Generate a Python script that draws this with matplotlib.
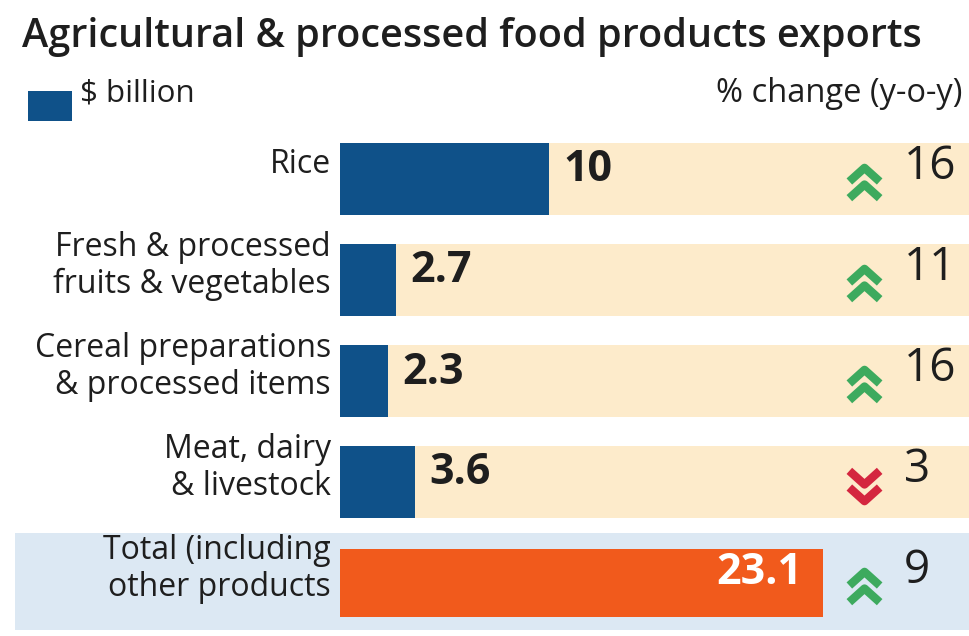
import matplotlib
matplotlib.use("Agg")
import matplotlib.pyplot as plt
from matplotlib.path import Path
from matplotlib.patches import Rectangle

# ---- data ----
categories = ["Rice",
              "Fresh & processed\nfruits & vegetables",
              "Cereal preparations\n& processed items",
              "Meat, dairy\n& livestock",
              "Total (including\nother products"]
values = [10, 2.7, 2.3, 3.6, 23.1]
value_labels = ["10", "2.7", "2.3", "3.6", "23.1"]
changes = ["16", "11", "16", "3", "9"]
directions = ["up", "up", "up", "down", "up"]

# ---- style ----
BLUE = "#0F5189"
ORANGE = "#F15A1C"
BEIGE = "#FDEBCB"
LIGHTBLUE = "#DCE8F3"
GREEN = "#3DAA5E"
RED = "#D4263F"
TXT = "#1E1E1E"
FONT = ["Open Sans", "DejaVu Sans"]

W, H = 969, 636
fig = plt.figure(figsize=(W / 100, H / 100), dpi=100)
fig.patch.set_facecolor("white")

# light blue band behind total row (figure coords)
fig.patches.append(Rectangle((15 / W, (H - 630) / H), (W - 15) / W, 97 / H,
                             transform=fig.transFigure, facecolor=LIGHTBLUE,
                             edgecolor="none", zorder=-5))

# axes: x value 0 at px 340, right edge px 969; rows at px 179 + 101*i
px_per_unit = 20.9
ax_left = 340 / W
ax = fig.add_axes([ax_left, 0, 1 - ax_left, (636 - 128) / H])
ax.patch.set_alpha(0)
ax.set_xlim(0, (W - 340) / px_per_unit)
ax.set_ylim((636 - 179) / 101, (128 - 179) / 101)
ax.axis("off")

n = len(categories)
xmax = (W - 340) / px_per_unit
up_path = Path([(-1, 0), (0, 0.9), (1, 0), (-1, -1.1), (0, -0.2), (1, -1.1)],
               [Path.MOVETO, Path.LINETO, Path.LINETO,
                Path.MOVETO, Path.LINETO, Path.LINETO])
down_path = Path([(-1, 0.9), (0, 0), (1, 0.9), (-1, -0.2), (0, -1.1), (1, -0.2)],
                 [Path.MOVETO, Path.LINETO, Path.LINETO,
                  Path.MOVETO, Path.LINETO, Path.LINETO])

for i in range(n):
    is_total = i == n - 1
    if not is_total:
        ax.barh(i, xmax, height=0.72, color=BEIGE, zorder=1)
        ax.barh(i, values[i], height=0.72, color=BLUE, zorder=2)
        ax.annotate(value_labels[i], xy=(values[i], i), xytext=(14, 9),
                    textcoords="offset pixels", ha="left", va="center",
                    fontsize=31, fontweight="bold", color=TXT, family=FONT)
    else:
        ax.barh(i, values[i], height=0.67, color=ORANGE, zorder=2)
        ax.annotate(value_labels[i], xy=(values[i], i), xytext=(-20, 10),
                    textcoords="offset pixels", ha="right", va="center",
                    fontsize=31, fontweight="bold", color="white", family=FONT)
    # category label
    ax.annotate(categories[i], xy=(0, i), xytext=(-9, 14),
                textcoords="offset pixels", ha="right", va="center",
                fontsize=23, color=TXT, family=FONT, linespacing=1.13,
                annotation_clip=False)
    # change indicator
    cx = (864 - 340) / px_per_unit
    path = up_path if directions[i] == "up" else down_path
    ax.plot([cx], [i + 0.02], marker=path, markersize=24,
            markerfacecolor="none", markeredgewidth=6,
            markeredgecolor=GREEN if directions[i] == "up" else RED,
            linestyle="none", zorder=3, clip_on=False)
    ax.annotate(changes[i], xy=(cx, i), xytext=(40, 12),
                textcoords="offset pixels", ha="left", va="center",
                fontsize=33, color=TXT, family=FONT)

# title & headers
fig.text(22 / W, 1 - 37 / H, "Agricultural & processed food products exports",
         ha="left", va="center", fontsize=28.5, fontweight="semibold",
         color=TXT, family=FONT)
fig.patches.append(Rectangle((28 / W, 1 - 121 / H), 44 / W, 30 / H,
                             transform=fig.transFigure, facecolor=BLUE,
                             edgecolor="none"))
fig.text(80 / W, 1 - 93 / H, "$ billion", ha="left", va="center",
         fontsize=22.5, color=TXT, family=FONT)
fig.text(962 / W, 1 - 93 / H, "% change (y-o-y)", ha="right", va="center",
         fontsize=23.5, color=TXT, family=FONT)

fig.savefig("out.png", dpi=100, facecolor="white")
